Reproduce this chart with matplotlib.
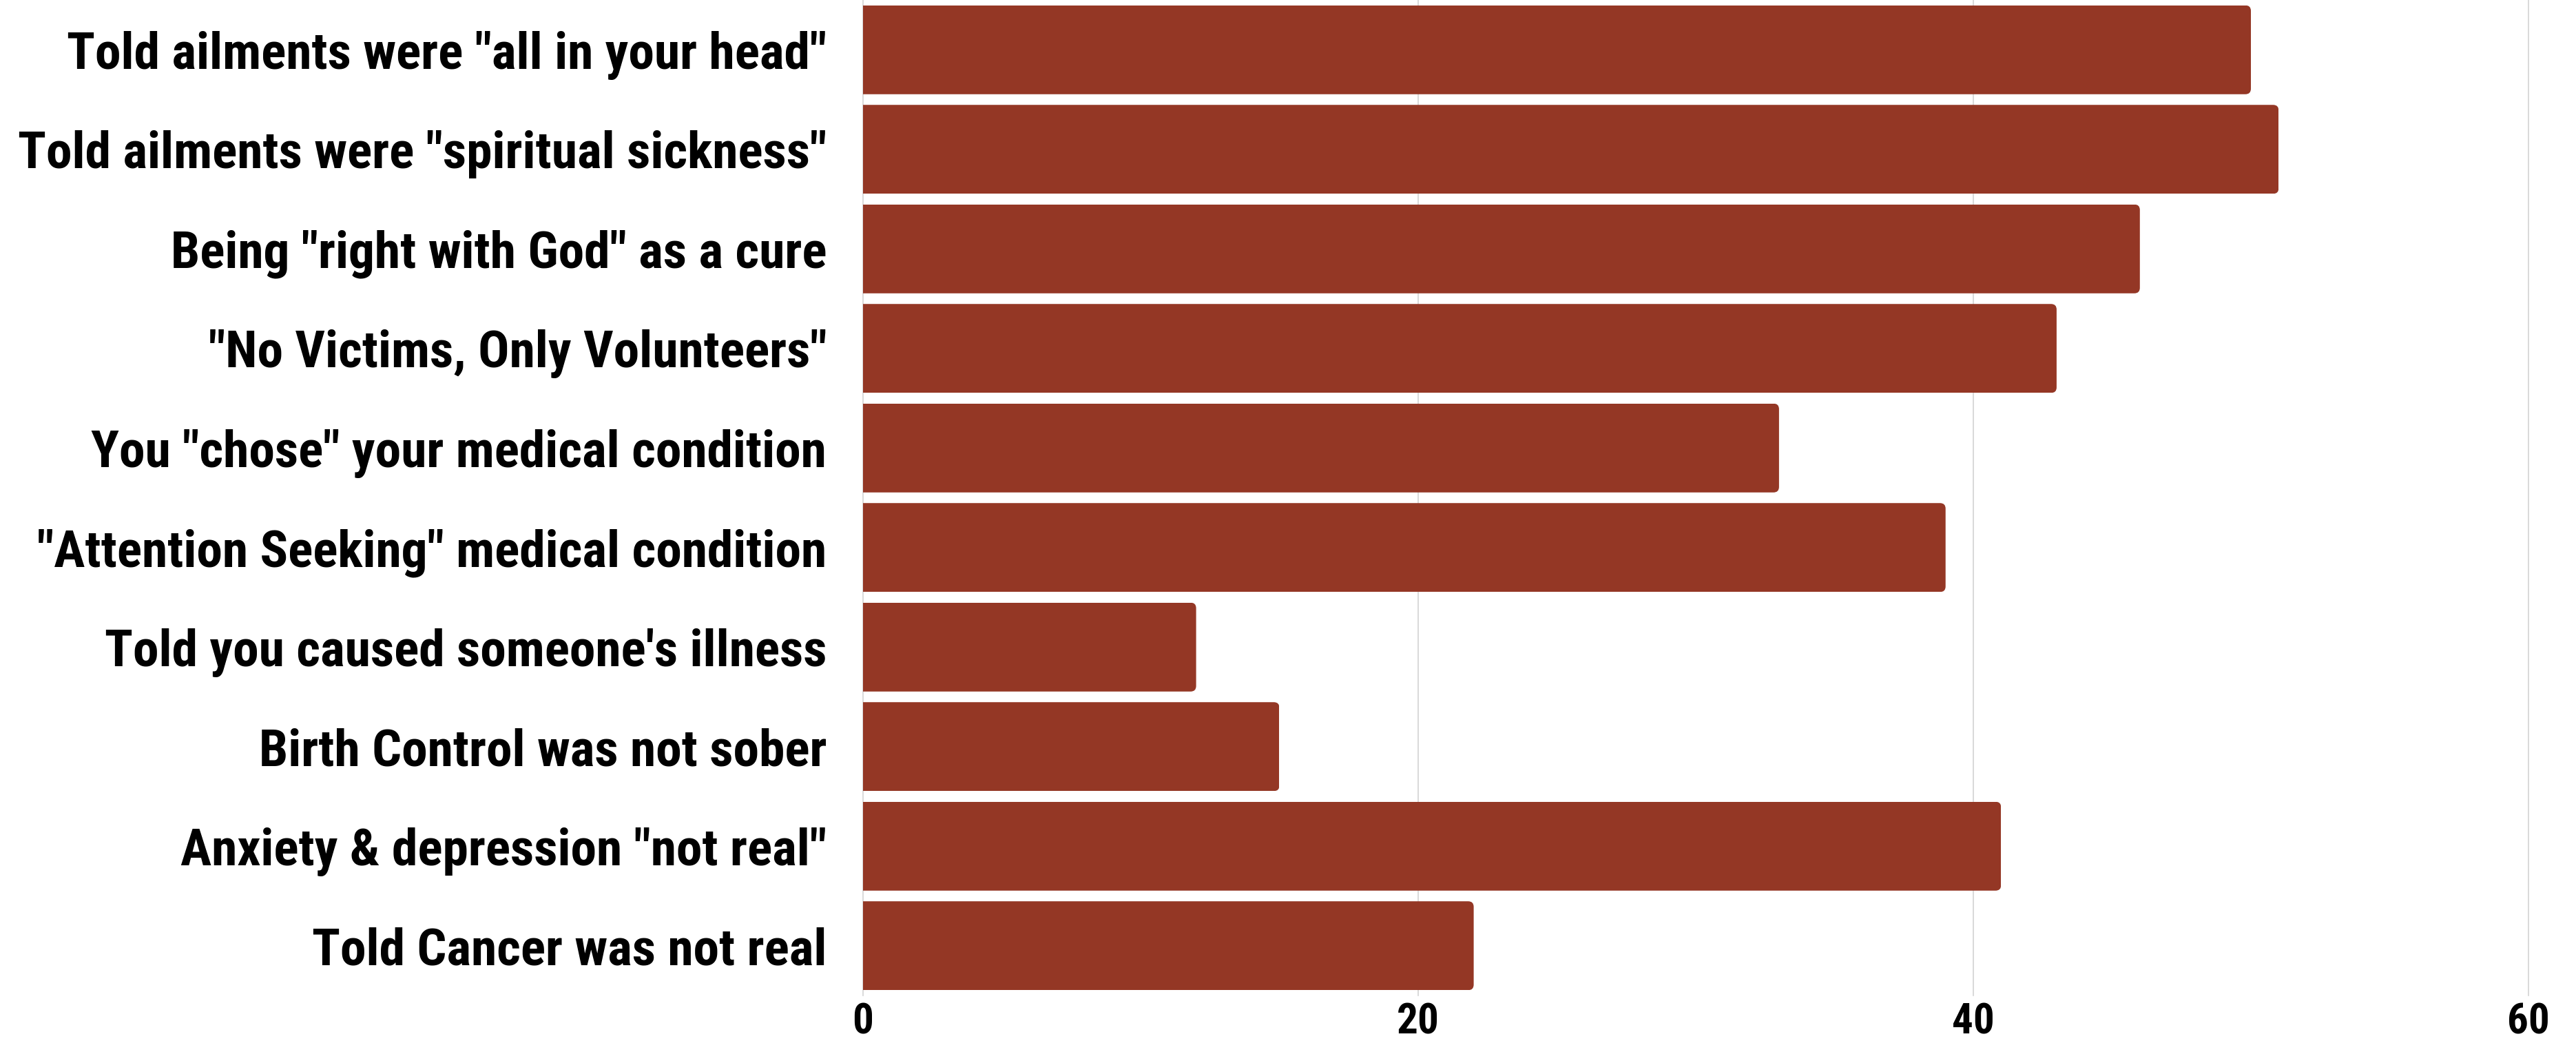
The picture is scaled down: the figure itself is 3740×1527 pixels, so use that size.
import matplotlib
matplotlib.use("Agg")
import matplotlib.pyplot as plt
from matplotlib import font_manager
from matplotlib.patches import FancyBboxPatch

categories = [
    'Told ailments were "all in your head"',
    'Told ailments were "spiritual sickness"',
    'Being "right with God" as a cure',
    '"No Victims, Only Volunteers"',
    'You "chose" your medical condition',
    '"Attention Seeking" medical condition',
    "Told you caused someone's illness",
    'Birth Control was not sober',
    'Anxiety & depression "not real"',
    'Told Cancer was not real',
]
values = [50, 51, 46, 43, 33, 39, 12, 15, 41, 22]
xticks = [0, 20, 40, 60]

BAR_COLOR = "#943725"

available = {f.name for f in font_manager.fontManager.ttflist}
candidates = ["Liberation Sans Narrow", "Roboto Condensed", "Open Sans Condensed",
              "Noto Sans Condensed", "Lato", "Roboto", "DejaVu Sans"]
main_font = next(c for c in candidates if c in available)
FONT = [main_font, "DejaVu Sans"]

W, H = 3741, 1527
fig = plt.figure(figsize=(W / 100, H / 100), dpi=100)
ax = fig.add_axes([1253 / W, 1 - 1445 / H, (3671 - 1253) / W, 1445 / H])

ypos = list(range(len(categories)))
bars = ax.barh(ypos, values, height=0.893, color=BAR_COLOR, zorder=3)
for bar, v in zip(bars, values):
    clip = FancyBboxPatch((-1, bar.get_y()), v + 1, bar.get_height(),
                          boxstyle="round,pad=0,rounding_size=0.2",
                          mutation_aspect=0.277, transform=ax.transData,
                          facecolor="none", edgecolor="none")
    bar.set_clip_path(clip)

ax.set_xlim(0, 60)
ax.set_ylim(-0.5, len(categories) - 0.5)
ax.invert_yaxis()

# size the label font so the longest label spans ~1176 px like the reference
renderer = fig.canvas.get_renderer()
probe = fig.text(0, 0, categories[1], fontsize=50, fontweight="bold", family=FONT)
wpx = probe.get_window_extent(renderer).width
probe.remove()
label_size = min(50 * 1176 / wpx, 60)

ax.set_yticks(ypos)
ax.set_yticklabels(categories, fontsize=label_size, fontweight="bold", family=FONT, color="black")
ax.set_xticks(xticks)
ax.set_xticklabels([str(t) for t in xticks], fontsize=44, fontweight="bold", family=FONT, color="black")
ax.tick_params(axis="y", length=0, pad=38)
ax.tick_params(axis="x", length=0, pad=7)

for s in ax.spines.values():
    s.set_visible(False)
ax.grid(axis="x", color="#d3d3d3", linewidth=1.2, zorder=0)
ax.grid(axis="y", visible=False)
for gl in ax.get_xgridlines():
    gl.set_clip_on(False)

fig.savefig("out.png", dpi=100, facecolor="white")
